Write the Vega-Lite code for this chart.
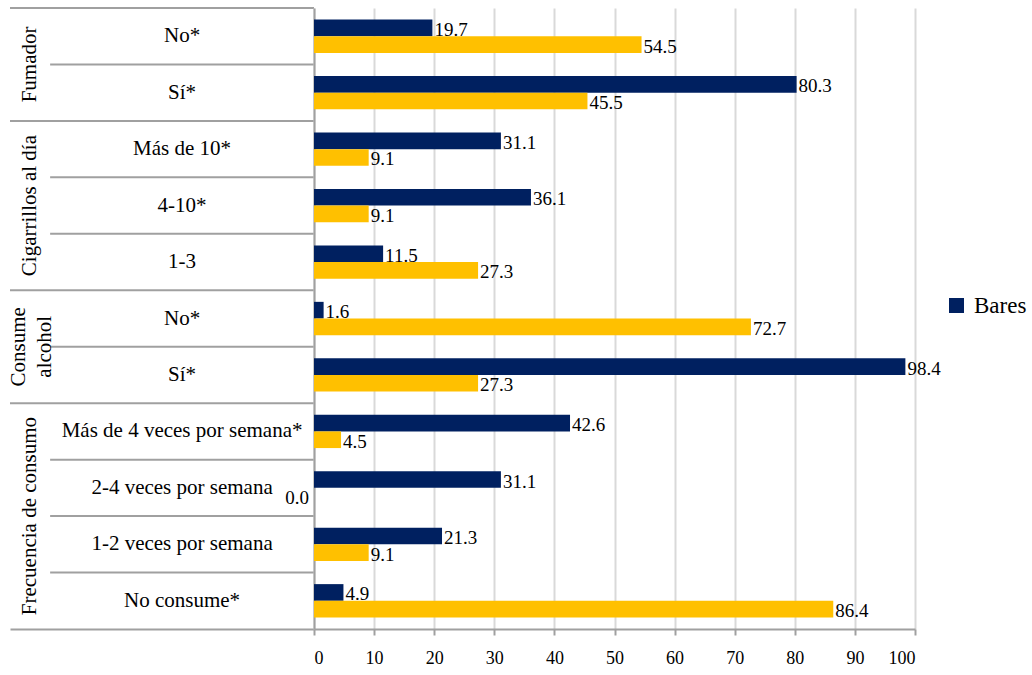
{
  "$schema": "https://vega.github.io/schema/vega-lite/v6.json",
  "padding": {"left": 8, "top": 7, "right": 0, "bottom": 0},
  "background": "white",
  "spacing": 0,
  "bounds": "flush",
  "config": {"view": {"stroke": null}, "font": "Liberation Serif", "concat": {"spacing": 0}},
  "datasets": {
    "d": [
      {"group": "Fumador", "category": "No*", "series": "Bares", "value": 19.7},
      {"group": "Fumador", "category": "No*", "series": "Otros", "value": 54.5},
      {"group": "Fumador", "category": "Sí*", "series": "Bares", "value": 80.3},
      {"group": "Fumador", "category": "Sí*", "series": "Otros", "value": 45.5},
      {"group": "Cigarrillos al día", "category": "Más de 10*", "series": "Bares", "value": 31.1},
      {"group": "Cigarrillos al día", "category": "Más de 10*", "series": "Otros", "value": 9.1},
      {"group": "Cigarrillos al día", "category": "4-10*", "series": "Bares", "value": 36.1},
      {"group": "Cigarrillos al día", "category": "4-10*", "series": "Otros", "value": 9.1},
      {"group": "Cigarrillos al día", "category": "1-3", "series": "Bares", "value": 11.5},
      {"group": "Cigarrillos al día", "category": "1-3", "series": "Otros", "value": 27.3},
      {"group": "Consume alcohol", "category": "No*", "series": "Bares", "value": 1.6},
      {"group": "Consume alcohol", "category": "No*", "series": "Otros", "value": 72.7},
      {"group": "Consume alcohol", "category": "Sí*", "series": "Bares", "value": 98.4},
      {"group": "Consume alcohol", "category": "Sí*", "series": "Otros", "value": 27.3},
      {"group": "Frecuencia de consumo", "category": "Más de 4 veces por semana*", "series": "Bares", "value": 42.6},
      {"group": "Frecuencia de consumo", "category": "Más de 4 veces por semana*", "series": "Otros", "value": 4.5},
      {"group": "Frecuencia de consumo", "category": "2-4 veces por semana", "series": "Bares", "value": 31.1},
      {"group": "Frecuencia de consumo", "category": "2-4 veces por semana", "series": "Otros", "value": 0.0},
      {"group": "Frecuencia de consumo", "category": "1-2 veces por semana", "series": "Bares", "value": 21.3},
      {"group": "Frecuencia de consumo", "category": "1-2 veces por semana", "series": "Otros", "value": 9.1},
      {"group": "Frecuencia de consumo", "category": "No consume*", "series": "Bares", "value": 4.9},
      {"group": "Frecuencia de consumo", "category": "No consume*", "series": "Otros", "value": 86.4}
    ]
  },
  "data": {"name": "d"},
  "transform": [{"calculate": "datum.group + '|' + datum.category", "as": "key"}],
  "hconcat": [
    {
      "width": 304,
      "height": 621,
      "transform": [
        {"filter": "datum.series === 'Bares'"},
        {"window": [{"op": "row_number", "as": "idx"}]},
        {"window": [{"op": "row_number", "as": "gi"}], "groupby": ["group"]},
        {"calculate": "datum.idx - 1", "as": "top"},
        {"calculate": "datum.idx - 0.5", "as": "mid"}
      ],
      "layer": [
        {
          "transform": [{"filter": "datum.gi === 1"}],
          "mark": {"type": "rule", "color": "#a0a0a0", "strokeWidth": 2},
          "encoding": {
            "x": {"datum": 0, "type": "quantitative", "scale": {"domain": [0, 1]},
                  "axis": {"domain": true, "domainColor": "#a0a0a0", "domainWidth": 2, "ticks": false, "labels": false, "grid": false, "title": null, "minExtent": 0}},
            "x2": {"datum": 1},
            "y": {"field": "top", "type": "quantitative", "scale": {"domain": [0, 11], "reverse": true}, "axis": null}
          }
        },
        {
          "transform": [{"filter": "datum.gi > 1"}],
          "mark": {"type": "rule", "color": "#a0a0a0", "strokeWidth": 2},
          "encoding": {
            "x": {"datum": 0.132, "type": "quantitative"},
            "x2": {"datum": 1},
            "y": {"field": "top", "type": "quantitative"}
          }
        },
        {
          "mark": {"type": "text", "fontSize": 21, "align": "center", "baseline": "middle", "color": "black"},
          "encoding": {
            "x": {"datum": 0.566, "type": "quantitative"},
            "y": {"field": "mid", "type": "quantitative"},
            "text": {"field": "category"}
          }
        },
        {
          "transform": [
            {"filter": "datum.group !== 'Consume alcohol'"},
            {"aggregate": [{"op": "mean", "field": "mid", "as": "gmid"}], "groupby": ["group"]}
          ],
          "mark": {"type": "text", "fontSize": 21, "align": "center", "baseline": "middle", "angle": 270, "color": "black"},
          "encoding": {
            "x": {"datum": 0.066, "type": "quantitative"},
            "y": {"field": "gmid", "type": "quantitative"},
            "text": {"field": "group"}
          }
        },
        {
          "transform": [
            {"filter": "datum.group === 'Consume alcohol'"},
            {"aggregate": [{"op": "mean", "field": "mid", "as": "gmid"}], "groupby": ["group"]},
            {"calculate": "split(datum.group, ' ')", "as": "glabel"}
          ],
          "mark": {"type": "text", "fontSize": 21, "align": "center", "baseline": "middle", "angle": 270, "color": "black", "lineHeight": 26},
          "encoding": {
            "x": {"datum": 0.03, "type": "quantitative"},
            "y": {"field": "gmid", "type": "quantitative"},
            "text": {"field": "glabel"}
          }
        }
      ]
    },
    {
      "width": 601,
      "height": 621,
      "encoding": {
        "y": {"field": "key", "type": "nominal", "sort": null,
              "scale": {"paddingInner": 0.41, "paddingOuter": 0.205},
              "axis": {"labels": false, "ticks": false, "title": null, "domainColor": "#a0a0a0", "domainWidth": 2, "grid": false, "minExtent": 0}},
        "yOffset": {"field": "series", "sort": ["Bares", "Otros"]},
        "x": {"field": "value", "type": "quantitative", "scale": {"domain": [0, 100]},
              "axis": {"values": [0, 10, 20, 30, 40, 50, 60, 70, 80, 90, 100], "title": null, "grid": true, "gridColor": "#d9d9d9", "gridWidth": 2,
                       "domainColor": "#a0a0a0", "domainWidth": 2, "tickColor": "#a0a0a0", "tickSize": 6, "tickWidth": 2,
                       "labelFontSize": 18, "labelColor": "black", "labelPadding": 14}}
      },
      "layer": [
        {
          "mark": {"type": "bar"},
          "encoding": {
            "color": {"field": "series", "type": "nominal",
                      "scale": {"domain": ["Bares", "Otros"], "range": ["#002060", "#FFC000"]},
                      "legend": {"orient": "none", "legendX": 935, "legendY": 286, "values": ["Bares"], "title": null,
                                 "symbolType": "square", "symbolSize": 225, "symbolStrokeWidth": 0, "symbolOpacity": 1,
                                 "labelFontSize": 23, "labelColor": "black", "labelOffset": 6, "labelBaseline": "middle"}}
          }
        },
        {
          "transform": [{"filter": "datum.value > 0"}],
          "mark": {"type": "text", "align": "left", "baseline": "alphabetic", "dx": 2, "dy": 8, "fontSize": 19, "color": "black"},
          "encoding": {"text": {"field": "value", "format": ".1f"}}
        },
        {
          "transform": [{"filter": "datum.value === 0"}],
          "mark": {"type": "text", "align": "right", "baseline": "alphabetic", "dx": -5, "dy": 8, "fontSize": 19, "color": "black"},
          "encoding": {"text": {"field": "value", "format": ".1f"}}
        }
      ]
    }
  ]
}
